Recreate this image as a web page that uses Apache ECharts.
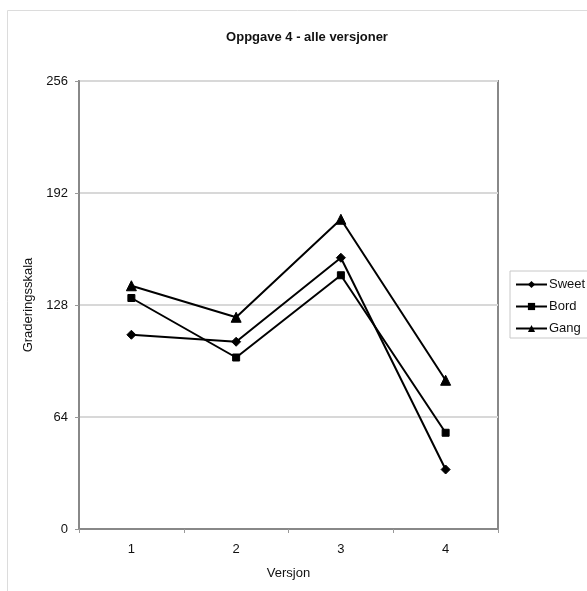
<!DOCTYPE html>
<html>
<head>
<meta charset="utf-8">
<script src="https://cdn.jsdelivr.net/npm/echarts@6/dist/echarts.min.js"></script>
<style>
  html, body { margin: 0; padding: 0; background: #ffffff; }
  #chart { width: 587px; height: 591px; }
</style>
</head>
<body>
<div id="chart"></div>
<script>
// Versions on the x axis
const versions = ['1', '2', '3', '4'];
// Grading scale scores per version
const sweet = [111, 107, 155, 34];
const bord = [132, 98, 145, 55];
const gang = [139, 121, 177, 85];
// Y axis ticks
const yTicks = [0, 64, 128, 192, 256];

const font = 'Liberation Sans, Arial, sans-serif';

function lineSeries(name, data, symbol, size) {
  return {
    name: name,
    type: 'line',
    data: data,
    symbol: symbol,
    symbolSize: size,
    showSymbol: true,
    lineStyle: { color: '#000', width: 2 },
    itemStyle: { color: '#000', borderColor: '#000' },
    emphasis: { disabled: true },
    animation: false
  };
}

const chart = echarts.init(document.getElementById('chart'), null, { renderer: 'canvas' });
chart.setOption({
  backgroundColor: '#ffffff',
  animation: false,
  title: {
    text: 'Oppgave 4 - alle versjoner',
    left: 302,
    textAlign: 'center',
    top: 26,
    textStyle: { fontFamily: font, fontSize: 13, fontWeight: 'bold', color: '#111' }
  },
  graphic: [{
    type: 'rect',
    shape: { x: 7.5, y: 10.5, width: 640, height: 640 },
    style: { fill: 'none', stroke: '#dcdcdc', lineWidth: 1 },
    silent: true
  }],
  legend: {
    data: ['Sweet', 'Bord', 'Gang'],
    orient: 'vertical',
    left: 510,
    top: 271,
    padding: [7, 40, 3, 5],
    itemWidth: 31,
    itemHeight: 9,
    itemGap: 9,
    borderColor: '#c8c8c8',
    borderWidth: 1,
    textStyle: { fontFamily: font, fontSize: 13, color: '#111', padding: [0, 0, 0, -3] }
  },
  grid: {
    left: 79, right: 89, top: 81, bottom: 62,
    show: true,
    borderColor: '#888',
    borderWidth: 2,
    containLabel: false
  },
  xAxis: {
    type: 'category',
    data: versions,
    boundaryGap: true,
    name: 'Versjon',
    nameLocation: 'middle',
    nameGap: 38,
    nameTextStyle: { fontFamily: font, fontSize: 13, color: '#111' },
    axisLine: { show: true, lineStyle: { color: '#888', width: 2 } },
    axisTick: { show: true, length: 4, lineStyle: { color: '#999' } },
    axisLabel: { fontFamily: font, fontSize: 13, color: '#111', margin: 14 },
    splitLine: { show: false }
  },
  yAxis: {
    type: 'value',
    min: yTicks[0],
    max: yTicks[yTicks.length - 1],
    interval: 64,
    name: 'Graderingsskala',
    nameLocation: 'middle',
    nameGap: 38,
    nameTextStyle: { fontFamily: font, fontSize: 13, color: '#111' },
    axisLine: { show: true, lineStyle: { color: '#888', width: 2 } },
    axisTick: { show: true, length: 4, lineStyle: { color: '#999' } },
    axisLabel: { fontFamily: font, fontSize: 13, color: '#111', margin: 11 },
    splitLine: { show: true, lineStyle: { color: '#d8d8d8', width: 2 } }
  },
  series: [
    lineSeries('Sweet', sweet, 'diamond', 9),
    lineSeries('Bord', bord, 'rect', 7),
    lineSeries('Gang', gang, 'triangle', 10)
  ]
});
</script>
</body>
</html>
